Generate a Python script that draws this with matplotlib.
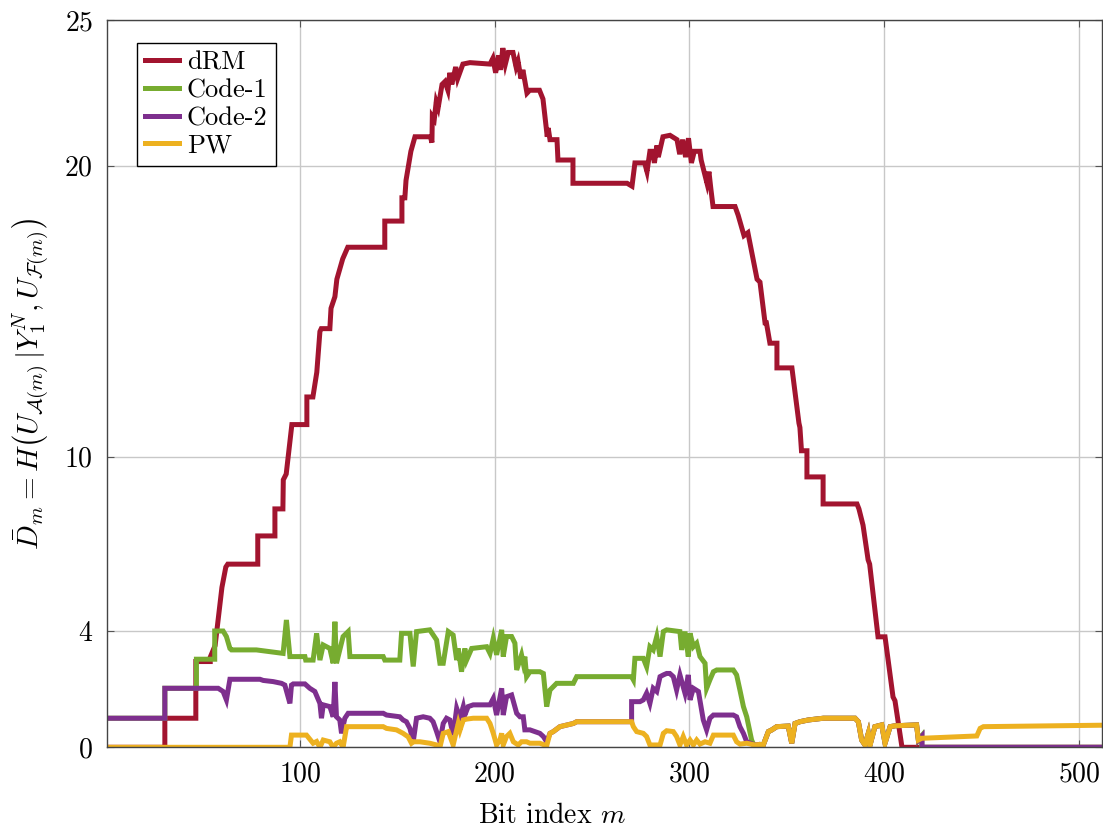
import numpy as np
import matplotlib
matplotlib.use("Agg")
import matplotlib.pyplot as plt

plt.rcParams['font.family'] = 'serif'
plt.rcParams['font.serif'] = ['cmr10']
plt.rcParams['mathtext.fontset'] = 'cm'
plt.rcParams['axes.formatter.use_mathtext'] = True

# ---------------- data ----------------
drm_x = [1, 30.7, 30.7, 46.6, 46.6, 54, 54, 56.5, 60, 62, 63, 78.4, 78.4, 87.2, 87.2, 91.3, 91.5, 93,
         95.9, 103.6, 103.6, 106.7, 108.7, 110.3, 111, 115.4, 116, 118, 119, 122, 124.6, 143.6, 143.6,
         152.4, 152.4, 153.9, 154.5, 157, 159.1, 167, 167.8, 168, 169, 170, 171, 173, 174.5, 176, 177,
         178, 180, 181, 183.7, 187.3, 197.6, 199.1, 200.5, 202, 203, 204.2, 205.5, 207, 209.4, 211, 212,
         213.5, 214.5, 216.6, 218, 223, 224.8, 227, 227.5, 228.4, 232, 232.5, 240.2, 240.2, 268, 270.5,
         272, 277, 278.2, 279.7, 281, 282, 283.3, 284, 286.4, 290, 293.6, 295, 296.5, 298, 299.5, 301,
         302.5, 305.4, 306, 309, 310, 311, 312.1, 323.4, 325, 328, 330, 334.7, 336.2, 338.8, 339.5,
         341.3, 344.9, 344.9, 352.6, 356.2, 356.7, 357.5, 360.3, 360.3, 368.6, 368.6, 386, 387, 389.1,
         391.7, 392.5, 395.2, 396.8, 400.4, 404.5, 405.5, 409.1, 512]
drm_y = [0, 0, 1.0, 1.0, 2.95, 2.95, 3.1, 3.5, 5.5, 6.2, 6.3, 6.3, 7.27, 7.27, 8.2, 8.2, 9.2, 9.4,
         11.1, 11.1, 12.05, 12.05, 12.9, 14.3, 14.4, 14.4, 15.1, 15.5, 16.1, 16.8, 17.2, 17.2, 18.1,
         18.1, 18.9, 18.9, 19.5, 20.5, 21.0, 21.0, 20.8, 21.7, 21.6, 22.2, 22.0, 22.8, 22.9, 22.6, 23.2,
         22.8, 23.4, 23.0, 23.5, 23.55, 23.5, 23.7, 23.2, 23.8, 23.3, 24.05, 23.5, 23.9, 23.9, 23.4, 23.6,
         23.0, 23.3, 22.5, 22.6, 22.6, 22.3, 21.0, 21.3, 20.9, 20.9, 20.2, 20.2, 19.4, 19.4, 19.3,
         20.1, 20.1, 19.8, 20.5, 20.5, 20.1, 20.7, 20.3, 21.0, 21.05, 20.9, 20.4, 20.9, 20.3, 20.95, 20.1,
         20.5, 20.5, 20.2, 19.4, 19.8, 19.2, 18.6, 18.6, 18.3, 17.6, 17.7, 16.1, 16.0, 14.6, 14.6,
         13.9, 13.9, 13.05, 13.05, 11.15, 11.0, 10.2, 10.2, 9.3, 9.3, 8.37, 8.37, 8.2, 7.64,
         6.45, 6.3, 4.72, 3.8, 3.8, 1.73, 1.6, 0, 0]

pw_x = [1, 94.9, 95.7, 103.4, 106.8, 108.6, 110.3, 112.0, 115.4, 117.1, 118.8, 120.5, 122.2, 124.0,
        124.8, 142.8, 144.5, 149.6, 153.0, 155.6, 157.3, 158.2, 161.6, 166.7, 170.2, 171.9, 173.6,
        176.2, 178.7, 181.3, 182.2, 183.9, 185.6, 189.0, 195.9, 197.6, 199.3, 201.0, 202.7, 203.6,
        204.4, 206.1, 207.8, 209.6, 212.1, 213.8, 216.4, 218.1, 223.2, 226.7, 228.4, 230.1, 233.5,
        240.4, 242.1, 254.1, 270.3, 271.2, 272.9, 276.3, 278.0, 279.7, 284.9, 286.6, 288.3, 291.7,
        293.4, 295.1, 296.8, 298.5, 300.3, 302.0, 303.7, 305.4, 308.0, 310.5, 312.3, 322.5, 324.2,
        325.9, 329.4, 333.6, 336.2, 337.9, 340.5, 342.3, 344.8, 350.7, 352.5, 354.2, 356.7, 361.0,
        368.7, 385.0, 386.7, 388.4, 390.1, 391.8, 392.7, 395.2, 398.7, 400.4, 403.0, 405.5, 416.6,
        417.5, 419.2, 447.5, 449.2, 450.9, 512]
pw_y = [0, 0, 0.42, 0.42, 0.14, 0.20, 0, 0.25, 0.19, 0, 0.14, 0.19, 0, 0.71,
        0.71, 0.71, 0.65, 0.60, 0.48, 0.36, 0.14, 0.19, 0.19, 0.14, 0.08, 0, 0.48,
        0.54, 0.08, 0.82, 0.59, 0.94, 0.97, 1.0, 1.0, 0.82, 0.48, 0.08, 0.25, 0.48,
        0.08, 0.37, 0.48, 0.19, 0.08, 0.19, 0.19, 0.14, 0.14, 0.05, 0.48, 0.54, 0.71,
        0.82, 0.88, 0.88, 0.88, 0.71, 0.54, 0.48, 0.37, 0.08, 0.08, 0.48, 0.57, 0.54,
        0.37, 0.08, 0.37, 0.08, 0.25, 0.08, 0.25, 0.11, 0.19, 0.14, 0.42, 0.42, 0.19,
        0.11, 0.14, 0.08, 0.10, 0.08, 0.54, 0.60, 0.71, 0.73, 0.14, 0.82, 0.88, 0.94,
        1.0, 1.0, 0.88, 0.25, 0.08, 0.48, 0.08, 0.71, 0.77, 0.14, 0.71, 0.74, 0.77,
        0.25, 0.31, 0.39, 0.65, 0.71, 0.76]

code1_x = [1, 30.7, 30.7, 46.9, 46.9, 56.3, 56.3, 60.6, 62.3, 64.1, 64.9, 77.7, 91.4, 93.1, 94.9,
           102.6, 103.0, 106.8, 108.6, 110.3, 112.0, 115.4, 117.1, 118.0, 118.8, 122.2, 124.8, 125.7,
           142.8, 143.6, 151.3, 152.2, 156.5, 158.2, 159.9, 166.7, 170.2, 171.9, 173.6, 176.2, 178.7,
           180.5, 181.3, 183.0, 184.7, 185.6, 188.2, 195.9, 197.6, 199.3, 201.0, 203.6, 204.4, 206.1,
           208.7, 210.4, 211.3, 213.8, 214.7, 215.5, 216.4, 218.1, 223.2, 225.0, 226.7, 228.4, 231.8,
           240.4, 242.1, 270.3, 271.2, 272.0, 276.3, 278.0, 279.7, 281.4, 283.2, 284.9, 286.6, 288.3,
           295.1, 296.0, 297.7, 299.4, 300.3, 302.0, 303.7, 305.4, 308.0, 308.8, 310.5, 312.3, 314.0,
           322.5, 324.2, 325.9, 327.7, 329.4, 331.9, 333.6]
code1_y = [1.0, 1.0, 2.03, 2.03, 3.03, 3.03, 4.0, 4.0, 3.81, 3.40, 3.35, 3.35, 3.23, 4.38, 3.12,
           3.12, 3.0, 3.0, 3.92, 3.0, 3.52, 3.40, 2.89, 4.32, 2.89, 3.81, 3.98, 3.12,
           3.12, 3.0, 3.0, 3.92, 3.92, 2.78, 3.98, 4.04, 3.69, 2.89, 2.89, 3.98, 3.86,
           3.0, 3.40, 2.60, 3.40, 3.0, 3.40, 3.46, 3.23, 3.75, 3.18, 4.04, 3.12, 3.81,
           3.81, 3.58, 2.66, 3.18, 2.89, 3.12, 2.43, 2.60, 2.60, 2.54, 1.40, 1.97, 2.20,
           2.20, 2.43, 2.43, 2.32, 3.06, 3.06, 2.77, 3.46, 3.35, 3.81, 3.12, 3.98, 4.04,
           3.98, 3.35, 3.98, 3.12, 3.92, 3.46, 3.58, 3.12, 2.89, 2.03, 2.32, 2.60, 2.66,
           2.66, 2.49, 1.97, 1.40, 1.05, 0.25, 0.0]

code2_x = [1, 30.7, 30.7, 58.1, 60.6, 62.3, 64.1, 64.9, 79.5, 81.2, 86.3, 90.6, 92.3, 94.9, 95.7,
           96.6, 102.6, 105.1, 107.7, 110.3, 111.1, 112.0, 115.4, 117.1, 118.0, 118.8, 120.5, 121.4,
           123.1, 124.8, 142.8, 144.5, 151.3, 153.0, 154.7, 156.5, 158.2, 159.9, 163.3, 166.7, 168.4,
           170.2, 171.9, 173.6, 175.3, 177.0, 178.7, 180.5, 182.2, 183.9, 184.7, 186.4, 189.0, 197.6,
           199.3, 201.0, 203.6, 204.4, 206.1, 208.7, 211.3, 213.0, 214.7, 215.5, 218.1, 223.2, 225.0,
           226.7]
code2_y = [1.0, 1.0, 2.03, 2.03, 1.92, 1.63, 2.34, 2.34, 2.34, 2.30, 2.26, 2.20, 2.14, 1.51, 2.14,
           2.18, 2.18, 2.03, 1.92, 1.51, 1.0, 1.46, 1.40, 1.05, 2.25, 1.05, 0.94, 0.48,
           1.0, 1.17, 1.17, 1.11, 1.05, 0.94, 0.88, 0.65, 0.19, 1.0, 1.05, 1.0, 0.88,
           0.54, 0.19, 0.82, 1.0, 0.94, 0.42, 1.34, 1.0, 1.40, 1.11, 1.40, 1.46, 1.46,
           1.68, 1.11, 2.03, 1.11, 1.74, 1.80, 1.17, 1.05, 1.05, 0.60, 0.60, 0.48, 0.37,
           0.19]
code2_mid_x = [270.3, 270.3, 274.6, 276.3, 278.0, 279.7, 281.4, 283.2, 284.9, 286.6, 288.3, 289.9,
               291.7, 293.4, 295.1, 297.7, 299.4, 300.3, 302.0, 304.6, 307.1, 308.8, 310.5, 312.3,
               322.5, 324.2, 325.9, 327.7, 329.4]
code2_mid_y = [0.88, 1.57, 1.57, 1.63, 1.86, 1.51, 2.03, 1.92, 2.43, 2.49, 2.54, 2.54,
               2.43, 1.97, 2.49, 1.86, 2.49, 1.63, 2.03, 1.92, 0.94, 0.60, 1.0, 1.11,
               1.11, 1.05, 0.71, 0.48, 0.19]

# ---------------- assemble series that coincide with PW where hidden ----------------
pw_x = np.array(pw_x); pw_y = np.array(pw_y)

def pw_segment(a, b):
    m = (pw_x > a) & (pw_x < b)
    return list(pw_x[m]), list(pw_y[m])

sx, sy = pw_segment(333.6, 419.2)
c1x = list(code1_x) + sx + [419.2, 419.2, 512]
c1y = list(code1_y) + sy + [0.39, 0.0, 0.0]

s1x, s1y = pw_segment(226.7, 270.3)
s2x, s2y = pw_segment(329.4, 419.2)
c2x = list(code2_x) + s1x + list(code2_mid_x) + s2x + [419.4, 419.4, 512]
c2y = list(code2_y) + s1y + list(code2_mid_y) + s2y + [0.39, 0.0, 0.0]

# ---------------- plot ----------------
fig = plt.figure(figsize=(11.03, 8.32), dpi=100)
ax = fig.add_axes([0.097, 0.1018, 0.9025, 0.8736])

lw = 3.6
ax.plot(drm_x, drm_y, color='#A2142F', lw=lw, label='dRM', solid_joinstyle='miter')
ax.plot(c1x, c1y, color='#77AC30', lw=lw, label='Code-1', solid_joinstyle='miter')
ax.plot(c2x, c2y, color='#7E2F8E', lw=lw, label='Code-2', solid_joinstyle='miter')
ax.plot(pw_x, pw_y, color='#EDB120', lw=lw, label='PW', solid_joinstyle='miter')

ax.set_xlim(1, 512)
ax.set_ylim(0, 25)
ax.set_xticks([100, 200, 300, 400, 500])
ax.set_yticks([0, 4, 10, 20, 25])
ax.grid(True, color='#c8c8c8', lw=1.0)
ax.set_axisbelow(True)
ax.tick_params(direction='in', top=True, right=True, length=5, width=0.8,
               color='#555555', labelsize=20, pad=10)
for s in ax.spines.values():
    s.set_color('#444444')
    s.set_linewidth(1.0)

ax.set_xlabel('Bit index $m$', fontsize=20)
ax.xaxis.set_label_coords(0.447, -0.076)
ax.set_ylabel(r'$\bar{D}_m = H\left(U_{\mathcal{A}(m)}\,|Y_1^N, U_{\mathcal{F}(m)}\right)$',
              fontsize=21, labelpad=10)

leg = ax.legend(loc='upper left', bbox_to_anchor=(0.030, 0.969), fontsize=19,
                frameon=True, fancybox=False, edgecolor='black', framealpha=1,
                handlelength=1.3, handletextpad=0.3, labelspacing=0.15,
                borderpad=0.3, borderaxespad=0.0)
leg.get_frame().set_linewidth(1.0)

fig.savefig('out.png', dpi=100)
